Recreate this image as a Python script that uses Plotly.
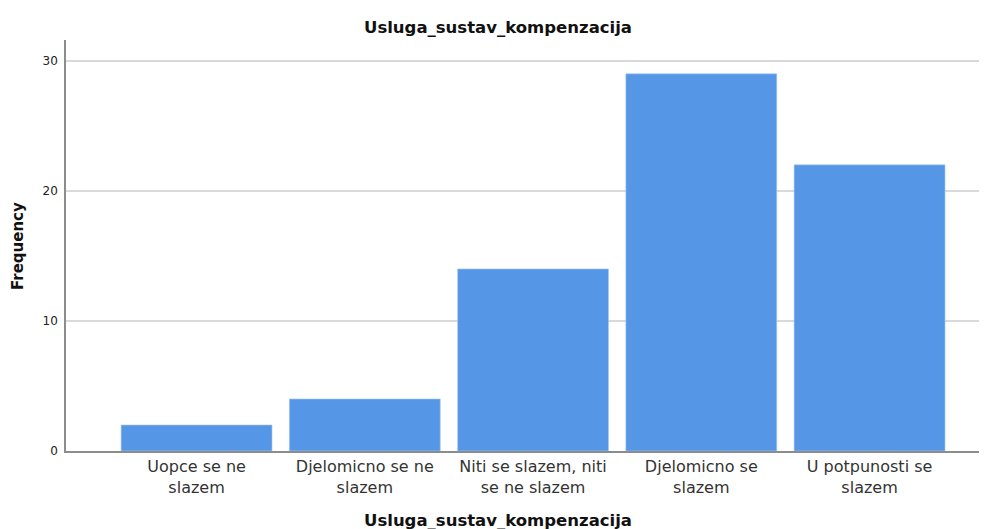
import plotly.graph_objects as go

categories = ["Uopce se ne<br>slazem", "Djelomicno se ne<br>slazem", "Niti se slazem, niti<br>se ne slazem",
              "Djelomicno se<br>slazem", "U potpunosti se<br>slazem"]
frequencies = [2, 4, 14, 29, 22]
y_ticks = [0, 10, 20, 30]
title_text = "Usluga_sustav_kompenzacija"

fig = go.Figure(go.Bar(
    x=categories, y=frequencies,
    marker=dict(color="#5597e6", line=dict(color="#a9c9f2", width=0.6)),
))

# page body has an 8px margin: figure is shifted to compensate
font_family = "DejaVu Sans, Verdana, sans-serif"
fig.update_layout(
    width=979, height=521,
    margin=dict(l=58, r=0, t=32, b=78),
    paper_bgcolor="white", plot_bgcolor="white",
    bargap=0.103,
    showlegend=False,
    font=dict(family=font_family, color="#222222"),
    title=dict(text="<b>" + title_text + "</b>", x=490 / 979, xanchor="center",
               y=1 - 19 / 521, yanchor="middle", font=dict(size=16.5, color="#111111")),
    annotations=[
        dict(text="<b>" + title_text + "</b>", xref="paper", yref="paper",
             x=0.469, y=-0.168, xanchor="center", yanchor="middle", showarrow=False,
             font=dict(size=16.5, color="#111111")),
        dict(text="<b>Frequency</b>", xref="paper", yref="paper", textangle=-90,
             x=-0.0521, y=0.4988, xanchor="center", yanchor="middle", showarrow=False,
             font=dict(size=15, color="#111111")),
    ],
)
fig.update_xaxes(
    range=[-0.776, 4.698], automargin=False,
    showline=True, linecolor="#8c8c8c", linewidth=1.5,
    showgrid=False, ticks="", tickfont=dict(size=16, color="#333333"),
)
fig.update_yaxes(
    range=[0, 31.6], tickvals=y_ticks, automargin=False,
    showline=True, linecolor="#8c8c8c", linewidth=1.5,
    showgrid=True, gridcolor="#d9d9d9", gridwidth=1.5,
    zeroline=False, ticks="", ticklabelstandoff=4,
    tickfont=dict(size=12, color="#222222"),
)

fig.write_html("out.html")
